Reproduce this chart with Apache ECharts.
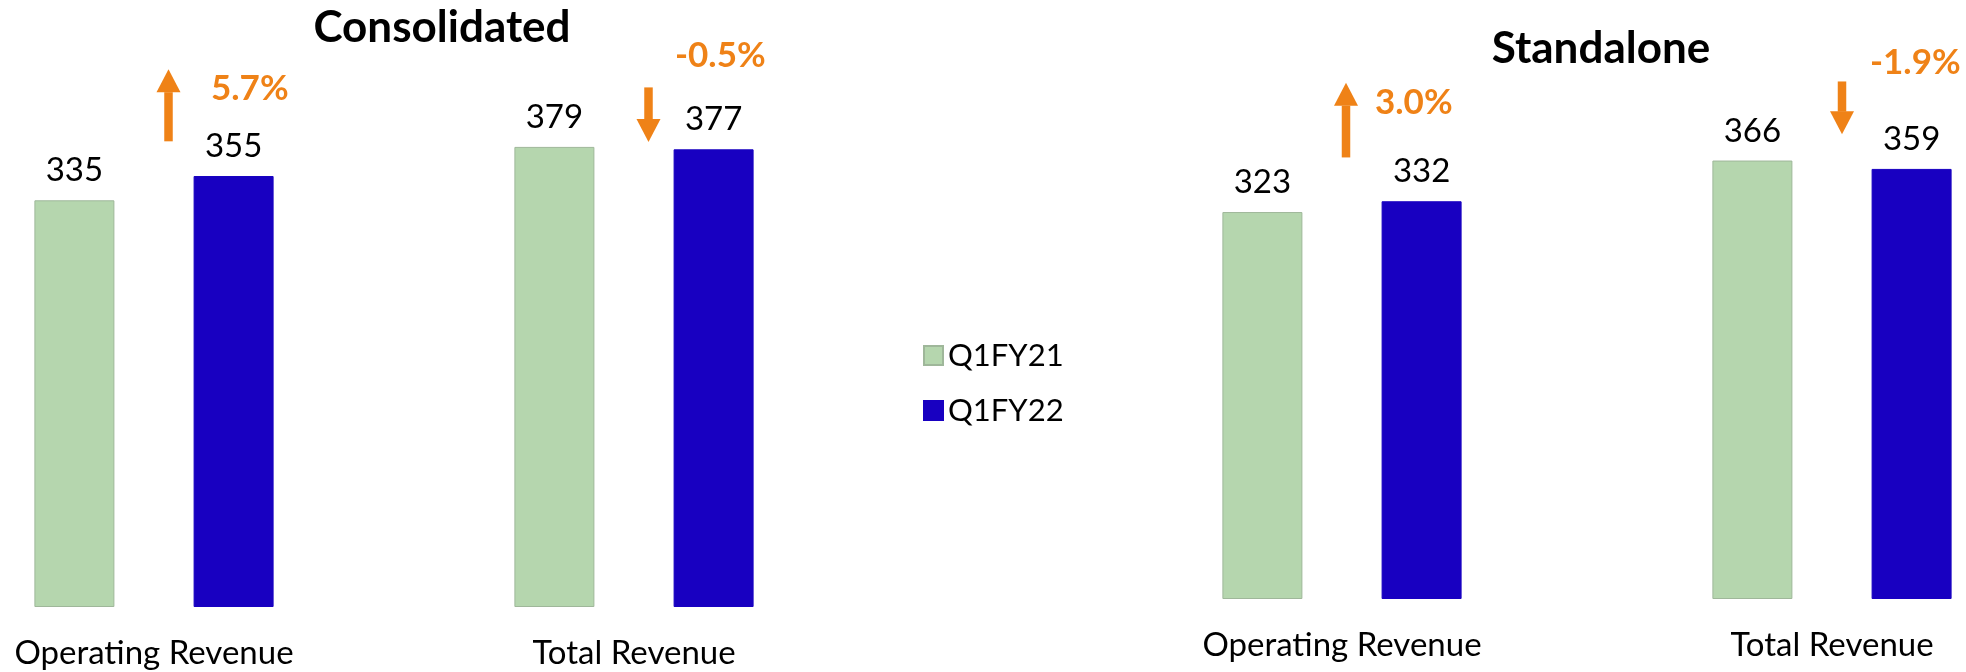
<!DOCTYPE html>
<html>
<head>
<meta charset="utf-8">
<script src="https://cdn.jsdelivr.net/npm/echarts@6/dist/echarts.min.js"></script>
<style>
  html, body { margin: 0; padding: 0; background: #ffffff; }
  #chart { width: 1966px; height: 672px; }
</style>
</head>
<body>
<div id="chart"></div>
<script>
// ---- data ----
const categories = ['Operating Revenue', 'Total Revenue'];
const seriesNames = ['Q1FY21', 'Q1FY22'];
const consolidatedQ1FY21 = [335, 379];
const consolidatedQ1FY22 = [355, 377];
const standaloneQ1FY21 = [323, 366];
const standaloneQ1FY22 = [332, 359];
const consolidatedChange = [5.7, -0.5];
const standaloneChange = [3.0, -1.9];
const panelTitles = ['Consolidated', 'Standalone'];

// ---- layout / style (not data) ----
const FONT = 'Lato, "Open Sans", sans-serif';
const GREEN = '#b5d6ae';
const GREEN_BORDER = '#9fb79a';
const BLUE = '#1800c1';
const ORANGE = '#ef8217';

// annotation placement: arrow x offset (px from category centre), arrow span (value units),
// text x offset (px) and text centre (value units)
const annotationLayout = [
  [ {arrowDx: 14.5, low: 384, high: 443, textDx: 57, textAt: 427},
    {arrowDx: 14.5, low: 383, high: 428, textDx: 41, textAt: 454} ],
  [ {arrowDx: 4,    low: 369, high: 431, textDx: 33, textAt: 414},
    {arrowDx: 10,   low: 388, high: 432, textDx: 38, textAt: 448} ]
];

function fmtPct(v) { return v.toFixed(1) + '%'; }

function makeRenderItem(panel) {
  return function (params, api) {
    const idx = api.value(0);
    const change = api.value(1);
    const lay = annotationLayout[panel][params.dataIndex];
    const c = api.coord([idx, 0]);
    const x = c[0] + lay.arrowDx;
    const yLow = api.coord([idx, lay.low])[1];
    const yHigh = api.coord([idx, lay.high])[1];
    const up = change >= 0;
    const tailY = up ? yLow : yHigh;
    const tipY = up ? yHigh : yLow;
    const headH = 23, headW = 24, shaftW = 8.5;
    const dir = up ? -1 : 1;
    const baseY = tipY - dir * headH;
    const top = Math.min(tailY, baseY), bot = Math.max(tailY, baseY);
    return {
      type: 'group',
      children: [
        { type: 'rect', shape: { x: x - shaftW / 2, y: top, width: shaftW, height: bot - top + 0.5 },
          style: { fill: ORANGE } },
        { type: 'polygon', shape: { points: [[x - headW / 2, baseY], [x + headW / 2, baseY], [x, tipY]] },
          style: { fill: ORANGE } },
        { type: 'text', x: c[0] + lay.textDx, y: api.coord([idx, lay.textAt])[1],
          style: { text: fmtPct(change), fill: ORANGE, font: 'bold 35px ' + FONT,
                   textAlign: 'left', textVerticalAlign: 'middle' } }
      ]
    };
  };
}

function barSeries(name, data, color, border, axisIdx) {
  return {
    type: 'bar', name: name, data: data, xAxisIndex: axisIdx, yAxisIndex: axisIdx,
    barWidth: 80, barGap: '99%', clip: false,
    itemStyle: { color: color, borderColor: border, borderWidth: 1 },
    label: { show: true, position: 'top', distance: 13, color: '#000',
             fontFamily: FONT, fontSize: 33 },
    emphasis: { disabled: true }
  };
}

const chart = echarts.init(document.getElementById('chart'), null, { renderer: 'canvas' });

const xAxisBase = {
  type: 'category', data: categories, boundaryGap: false,
  axisLine: { show: false }, axisTick: { show: false }, splitLine: { show: false },
  axisLabel: { color: '#000', fontFamily: FONT, fontSize: 33, margin: 30 }
};
const yAxisBase = { type: 'value', min: 0, max: 500, show: false, splitLine: { show: false } };

chart.setOption({
  animation: false,
  backgroundColor: '#ffffff',
  textStyle: { fontFamily: FONT },
  grid: [
    { left: 154, right: 1332, top: 0, bottom: 65, outerBoundsMode: 'none', containLabel: false },
    { left: 1342, right: 134, top: 0, bottom: 73, outerBoundsMode: 'none', containLabel: false }
  ],
  xAxis: [ Object.assign({ gridIndex: 0 }, xAxisBase), Object.assign({ gridIndex: 1 }, xAxisBase) ],
  yAxis: [ Object.assign({ gridIndex: 0 }, yAxisBase), Object.assign({ gridIndex: 1 }, yAxisBase) ],
  legend: {
    data: seriesNames, orient: 'vertical', left: 918, top: 335,
    itemWidth: 19, itemHeight: 19, itemGap: 24,
    icon: 'rect',
    textStyle: { color: '#000', fontFamily: FONT, fontSize: 31, lineHeight: 30, padding: [0, 0, 0, 0] },
    selectedMode: false
  },
  graphic: [
    { type: 'text', x: 442, y: 28, style: { text: panelTitles[0], font: 'bold 44px ' + FONT,
      fill: '#000', textAlign: 'center', textVerticalAlign: 'middle' } },
    { type: 'text', x: 1601, y: 49, style: { text: panelTitles[1], font: 'bold 44px ' + FONT,
      fill: '#000', textAlign: 'center', textVerticalAlign: 'middle' } }
  ],
  series: [
    barSeries(seriesNames[0], consolidatedQ1FY21, GREEN, GREEN_BORDER, 0),
    barSeries(seriesNames[1], consolidatedQ1FY22, BLUE, BLUE, 0),
    barSeries(seriesNames[0], standaloneQ1FY21, GREEN, GREEN_BORDER, 1),
    barSeries(seriesNames[1], standaloneQ1FY22, BLUE, BLUE, 1),
    { type: 'custom', name: 'consolidatedChange', xAxisIndex: 0, yAxisIndex: 0,
      renderItem: makeRenderItem(0), encode: { x: 0, y: 1 }, clip: false, silent: true,
      data: consolidatedChange.map((v, i) => [i, v]) },
    { type: 'custom', name: 'standaloneChange', xAxisIndex: 1, yAxisIndex: 1,
      renderItem: makeRenderItem(1), encode: { x: 0, y: 1 }, clip: false, silent: true,
      data: standaloneChange.map((v, i) => [i, v]) }
  ]
});
</script>
</body>
</html>
